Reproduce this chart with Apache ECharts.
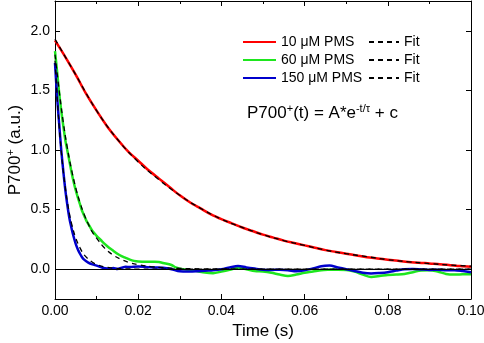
<!DOCTYPE html>
<html>
<head>
<meta charset="utf-8">
<script src="https://cdn.jsdelivr.net/npm/echarts@6/dist/echarts.min.js"></script>
<style>
  html, body { margin: 0; padding: 0; background: #fff; }
  #chart { width: 484px; height: 343px; }
</style>
</head>
<body>
<div id="chart"></div>
<script>
// 数据: [时间 (s), P700+ (a.u.)]
const red10 = [
  [0, 1.92], [0.0025, 1.78], [0.005, 1.63], [0.0075, 1.47], [0.01, 1.33],
  [0.0125, 1.20], [0.015, 1.09], [0.0175, 0.99], [0.02, 0.91], [0.0225, 0.83],
  [0.025, 0.76], [0.0275, 0.69], [0.03, 0.62], [0.0325, 0.56], [0.035, 0.51],
  [0.0375, 0.46], [0.04, 0.42], [0.0425, 0.385], [0.045, 0.35], [0.0475, 0.32],
  [0.05, 0.29], [0.0525, 0.265], [0.055, 0.24], [0.0575, 0.22], [0.06, 0.20],
  [0.0625, 0.18], [0.065, 0.16], [0.0675, 0.145], [0.07, 0.13], [0.0725, 0.115],
  [0.075, 0.10], [0.0775, 0.09], [0.08, 0.08], [0.0825, 0.07], [0.085, 0.06],
  [0.0875, 0.055], [0.09, 0.048], [0.0925, 0.042], [0.095, 0.034], [0.0975, 0.026],
  [0.1, 0.02]
];
const green60 = [
  [0, 1.83], [0.0005, 1.66], [0.001, 1.48], [0.0015, 1.33], [0.002, 1.20],
  [0.0025, 1.08], [0.003, 0.99], [0.0035, 0.90], [0.004, 0.81], [0.0045, 0.73],
  [0.005, 0.66], [0.0055, 0.60], [0.006, 0.545], [0.0065, 0.49], [0.007, 0.45],
  [0.0075, 0.41], [0.008, 0.38], [0.009, 0.32], [0.01, 0.28], [0.011, 0.245],
  [0.012, 0.21], [0.013, 0.18], [0.014, 0.155], [0.015, 0.13], [0.016, 0.11],
  [0.017, 0.095], [0.018, 0.08], [0.019, 0.07], [0.02, 0.065], [0.022, 0.063],
  [0.024, 0.063], [0.025, 0.06], [0.026, 0.052], [0.028, 0.035], [0.029, 0.015],
  [0.03, 0.005], [0.032, -0.006], [0.034, -0.015], [0.036, -0.028], [0.038, -0.033],
  [0.04, -0.02], [0.042, -0.005], [0.044, 0.012], [0.046, 0.0], [0.048, -0.015],
  [0.05, -0.02], [0.052, -0.03], [0.054, -0.045], [0.056, -0.056], [0.058, -0.045],
  [0.06, -0.03], [0.062, -0.02], [0.064, -0.008], [0.066, -0.005], [0.068, -0.004],
  [0.07, -0.006], [0.072, -0.02], [0.074, -0.045], [0.076, -0.065], [0.078, -0.058],
  [0.08, -0.048], [0.082, -0.045], [0.084, -0.04], [0.086, -0.025], [0.088, -0.01],
  [0.09, -0.008], [0.092, -0.02], [0.094, -0.04], [0.096, -0.045], [0.098, -0.043],
  [0.1, -0.042]
];
const blue150 = [
  [0, 1.73], [0.0005, 1.45], [0.001, 1.22], [0.0015, 1.00], [0.002, 0.82],
  [0.0025, 0.66], [0.003, 0.53], [0.0035, 0.42], [0.004, 0.34], [0.0045, 0.27],
  [0.005, 0.21], [0.0055, 0.165], [0.006, 0.13], [0.0065, 0.10], [0.007, 0.08],
  [0.008, 0.055], [0.009, 0.04], [0.01, 0.03], [0.011, 0.018], [0.012, 0.008],
  [0.013, 0.004], [0.014, 0.01], [0.015, 0.002], [0.016, 0.012], [0.017, 0.02],
  [0.018, 0.018], [0.02, 0.022], [0.022, 0.018], [0.024, 0.015], [0.026, 0.012],
  [0.028, 0.0], [0.03, -0.018], [0.032, -0.02], [0.034, -0.018], [0.036, -0.012],
  [0.038, -0.008], [0.04, 0.0], [0.042, 0.015], [0.044, 0.027], [0.046, 0.015],
  [0.048, 0.005], [0.05, -0.004], [0.052, -0.006], [0.054, -0.004], [0.056, -0.008],
  [0.058, -0.018], [0.06, -0.01], [0.062, 0.006], [0.064, 0.025], [0.066, 0.03],
  [0.068, 0.015], [0.07, 0.0], [0.072, -0.015], [0.074, -0.03], [0.076, -0.036],
  [0.078, -0.032], [0.08, -0.025], [0.082, -0.012], [0.084, 0.0], [0.086, 0.002],
  [0.088, -0.002], [0.09, -0.006], [0.092, -0.004], [0.094, -0.008], [0.096, -0.008],
  [0.098, -0.015], [0.1, -0.025]
];
// 拟合曲线 (黑色虚线)
const fitRed = [
  [0, 1.93], [0.005, 1.63], [0.01, 1.33], [0.015, 1.09], [0.02, 0.90],
  [0.025, 0.75], [0.03, 0.62], [0.035, 0.51], [0.04, 0.42], [0.045, 0.35],
  [0.05, 0.29], [0.055, 0.24], [0.06, 0.20], [0.065, 0.16], [0.07, 0.13],
  [0.075, 0.105], [0.08, 0.08], [0.085, 0.062], [0.09, 0.047], [0.095, 0.035],
  [0.1, 0.025]
];
const fitGreen = [
  [0, 1.80], [0.001, 1.50], [0.002, 1.23], [0.003, 1.01], [0.004, 0.83],
  [0.005, 0.68], [0.006, 0.56], [0.007, 0.46], [0.008, 0.38], [0.009, 0.31],
  [0.01, 0.26], [0.012, 0.175], [0.014, 0.118], [0.016, 0.08], [0.018, 0.055],
  [0.02, 0.038], [0.023, 0.022], [0.026, 0.013], [0.03, 0.007], [0.035, 0.003],
  [0.04, 0.002], [0.05, 0.0], [0.1, 0.0]
];
const fitBlue = [
  [0, 1.75], [0.0005, 1.45], [0.001, 1.20], [0.0015, 0.99], [0.002, 0.82],
  [0.0025, 0.68], [0.003, 0.56], [0.0035, 0.46], [0.004, 0.38], [0.005, 0.26],
  [0.006, 0.18], [0.007, 0.12], [0.008, 0.085], [0.009, 0.058], [0.01, 0.04],
  [0.012, 0.019], [0.014, 0.009], [0.017, 0.003], [0.02, 0.001], [0.03, 0.0],
  [0.1, 0.0]
];
const yTicks = [0, 0.5, 1.0, 1.5, 2.0];

const FONT = '"Liberation Sans", Arial, sans-serif';
const chart = echarts.init(document.getElementById("chart"));

function dataSeries(name, data, color) {
  return {
    name: name,
    type: "line",
    data: data,
    symbol: "none",
    smooth: 0.3,
    lineStyle: { color: color, width: 2.5 },
    itemStyle: { color: color },
  };
}
function fitSeries(name, data) {
  return {
    name: name,
    type: "line",
    data: data,
    symbol: "none",
    smooth: 0.4,
    z: 3,
    lineStyle: { color: "#000", width: 1.3, type: [5, 4] },
    itemStyle: { color: "#000" },
  };
}

const series = [
  dataSeries("10 μM PMS", red10, "#ff0000"),
  dataSeries("60 μM PMS", green60, "#1ee61e"),
  dataSeries("150 μM PMS", blue150, "#0000cc"),
  fitSeries("Fit1", fitRed),
  fitSeries("Fit2", fitGreen),
  fitSeries("Fit3", fitBlue),
];
// y = 0 的水平线
series[0].markLine = {
  silent: true,
  symbol: "none",
  label: { show: false },
  lineStyle: { color: "#000", width: 1, type: "solid" },
  data: [{ yAxis: 0 }],
};
series[0].z = 1;

const tickLabel = { color: "#000", fontSize: 14, fontFamily: FONT };

let option = {
  animation: false,
  backgroundColor: "#fff",
  grid: { left: 55, right: 13, top: 1, bottom: 44, outerBoundsMode: "none", containLabel: false },
  legend: [
    {
      data: ["10 μM PMS", "60 μM PMS", "150 μM PMS"],
      orient: "vertical",
      left: 242,
      top: 35,
      padding: 0,
      itemWidth: 33,
      itemHeight: 14,
      itemGap: 4,
      itemStyle: { opacity: 0 },
      textStyle: { color: "#000", fontSize: 14, fontFamily: FONT },
    },
    {
      data: ["Fit1", "Fit2", "Fit3"],
      orient: "vertical",
      left: 368,
      top: 35,
      padding: 0,
      itemWidth: 30,
      itemHeight: 14,
      itemGap: 4,
      itemStyle: { opacity: 0 },
      formatter: function () {
        return "Fit";
      },
      textStyle: { color: "#000", fontSize: 14, fontFamily: FONT },
    },
  ],
  xAxis: [
    {
      type: "value",
      min: 0,
      max: 0.1,
      interval: 0.02,
      name: "Time (s)",
      nameLocation: "middle",
      nameGap: 20,
      nameTextStyle: { color: "#000", fontSize: 17, fontFamily: FONT, verticalAlign: "top" },
      axisLine: { show: true, onZero: false, lineStyle: { color: "#000", width: 1 } },
      axisTick: { show: true, inside: true, length: 5, lineStyle: { color: "#000" } },
      minorTick: { show: true, splitNumber: 2, length: 3, lineStyle: { color: "#000" } },
      axisLabel: Object.assign({ margin: 5, formatter: (v) => v.toFixed(2) }, tickLabel),
      splitLine: { show: false },
    },
    {
      type: "value",
      position: "top",
      min: 0,
      max: 0.1,
      interval: 0.02,
      axisLine: { show: true, onZero: false, lineStyle: { color: "#000", width: 1 } },
      axisTick: { show: true, inside: true, length: 5, lineStyle: { color: "#000" } },
      minorTick: { show: true, splitNumber: 2, length: 3, lineStyle: { color: "#000" } },
      axisLabel: { show: false },
      splitLine: { show: false },
    },
  ],
  yAxis: [
    {
      type: "value",
      min: -0.25,
      max: 2.25,
      name: "{a|P700}{s|+}{a| (a.u.)}",
      nameLocation: "middle",
      nameGap: 30,
      nameMoveOverlap: false,
      nameRotate: 90,
      nameTextStyle: {
        color: "#000",
        fontFamily: FONT,
        rich: {
          a: { fontSize: 17, fontFamily: FONT, color: "#000", lineHeight: 20 },
          s: { fontSize: 11, fontFamily: FONT, color: "#000", verticalAlign: "top", lineHeight: 20 },
        },
      },
      axisLine: { show: true, onZero: false, lineStyle: { color: "#000", width: 1 } },
      axisTick: { show: true, inside: true, length: 5, customValues: yTicks, lineStyle: { color: "#000" } },
      axisLabel: Object.assign({ margin: 5, customValues: yTicks, formatter: (v) => v.toFixed(1) }, tickLabel),
      splitLine: { show: false },
    },
    {
      type: "value",
      position: "right",
      min: -0.25,
      max: 2.25,
      axisLine: { show: true, onZero: false, lineStyle: { color: "#000", width: 1 } },
      axisTick: { show: true, inside: true, length: 5, customValues: yTicks, lineStyle: { color: "#000" } },
      axisLabel: { show: false },
      splitLine: { show: false },
    },
  ],
  graphic: [
    {
      type: "text",
      left: 247,
      top: 103,
      style: {
        text: "{a|P700}{s|+}{a|(t) = A*e}{s|-t/τ}{a| + c}",
        rich: {
          a: { fontSize: 17, fontFamily: FONT, fill: "#000", lineHeight: 20 },
          s: { fontSize: 11, fontFamily: FONT, fill: "#000", verticalAlign: "top", lineHeight: 20 },
        },
      },
    },
  ],
  series: series,
};
chart.setOption(option);
</script>
</body>
</html>
